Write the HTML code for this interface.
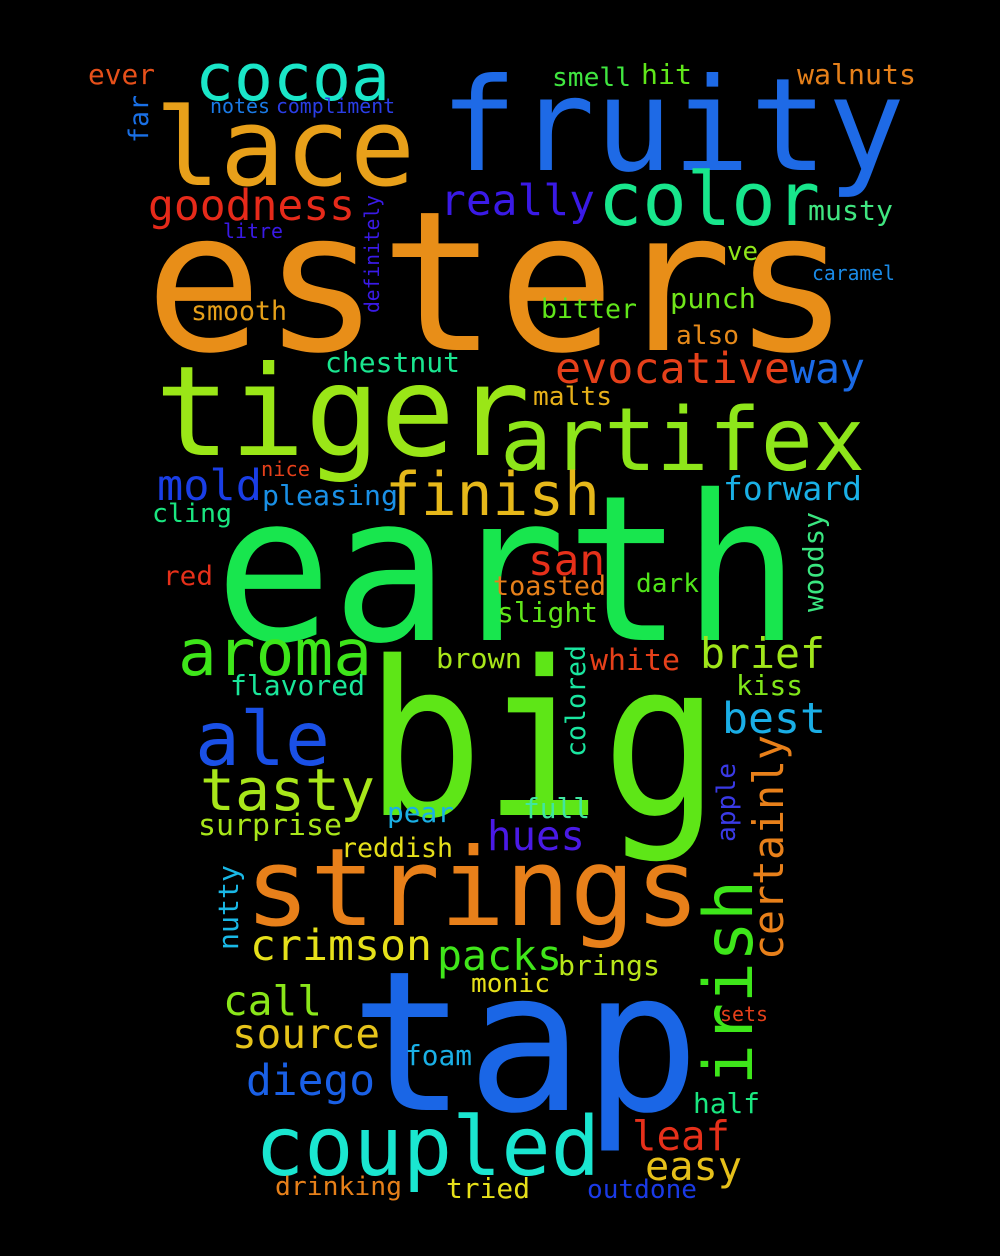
<!DOCTYPE html>
<html>
<head>
<meta charset="utf-8">
<style>
  html, body { margin: 0; padding: 0; background: #000; }
  svg { display: block; }
  text { font-family: "DejaVu Sans Mono", "Liberation Mono", monospace; }
</style>
</head>
<body>
<svg id="cloud" width="1000" height="1256" viewBox="0 0 1000 1256" xmlns="http://www.w3.org/2000/svg">
  <rect x="0" y="0" width="1000" height="1256" fill="#000"/>
</svg>
<script>
const words = ["esters","earth","big","tap","fruity","lace","tiger","artifex","strings","coupled","cocoa","color","finish","aroma","ale","tasty","irish","certainly","goodness","really","evocative","way","mold","san","brief","best","hues","crimson","packs","call","source","diego","leaf","easy","forward","chestnut","pleasing","cling","red","smooth","bitter","punch","also","malts","musty","ve","caramel","walnuts","hit","smell","ever","notes","compliment","far","definitely","litre","nice","toasted","dark","slight","woodsy","brown","white","colored","flavored","kiss","apple","pear","full","surprise","reddish","nutty","brings","monic","sets","foam","half","drinking","tried","outdone"];
const sizes = [195,203,215,195,129,108,125,87,108,82,65,74,60,64,75,58,68,42,43,43,43,42,43,43,42,43,41,43,42,41,41,43,41,40,33,28,28,26,27,27,27,28,26,26,28,26,20,28,28,26,28,20,20,27,20,20,20,27,26,28,28,28,29,27,28,28,26,28,28,29,27,28,28,26,20,28,28,26,28,26];
const colors = ["#e88e18","#18e64e","#5ee617","#1a66e6","#1e6ae6","#e8a01a","#9ae617","#8ee61a","#e8801a","#1ae6d0","#1ae6c8","#18e68c","#e6b81a","#3ee61a","#1a50e6","#a8e61a","#3ee61a","#e8801a","#e62a1a","#3a1ae6","#e6401a","#1a6ae6","#1a3ee6","#e6301a","#a0e61a","#1aaee6","#4a1ae6","#e6e01a","#40e61a","#8ae61a","#e6c41a","#1a60e6","#e6301a","#e6c01a","#1ab0e6","#1ae690","#1a90e6","#1ae680","#e6301a","#e6a01a","#60e61a","#70e61a","#e68a1a","#e6b01a","#40e680","#90e61a","#1a8ae6","#e6801a","#60e61a","#40e640","#e6501a","#1a7ae6","#2a3ee6","#1a70e6","#3a1ae6","#3a1ae6","#e6401a","#e6801a","#50e61a","#60e61a","#3ae680","#a8e61a","#e6401a","#1ae6a0","#1ae69a","#80e61a","#3a3ae6","#1ab0e6","#40e6a0","#a8e61a","#e6e01a","#1ab8e6","#b8e61a","#e6e01a","#e6401a","#1ab0e6","#1ae680","#e6801a","#e6e01a","#1a3ae6"];
const xs = [145,215,365,350,440,155,155,500,245,255,195,598,385,178,195,200,752,783,148,440,555,790,157,528,700,722,487,250,437,223,232,246,632,645,723,325,262,152,163,191,541,670,676,533,808,727,812,797,641,552,88,210,276,148,379,223,261,493,636,497,823,436,590,585,230,736,735,387,523,198,341,238,558,471,720,405,693,275,446,587];
const ys = [350,640,815,1110,170,185,455,470,925,1175,100,225,515,675,765,810,1085,960,220,215,383,383,500,575,668,733,850,960,970,1015,1048,1095,1150,1180,500,372,505,522,585,320,318,308,344,405,220,260,280,84,84,86,84,113,113,143,313,238,476,595,592,622,612,668,670,757,695,695,842,822,818,835,857,950,975,992,1021,1065,1113,1195,1198,1198];
const widths = [705,585,355,350,465,260,375,365,455,345,195,222,215,194,135,175,205,225,207,155,235,75,105,77,125,104,98,182,125,99,148,129,98,97,139,135,136,80,50,96,96,86,63,79,85,31,83,119,51,79,67,60,119,48,118,60,49,113,63,101,100,86,90,112,135,67,79,67,67,144,112,85,102,79,48,67,67,127,84,110];
const vertical = ["irish","certainly","far","definitely","woodsy","colored","apple","nutty"];

const svg = document.getElementById('cloud');
const NS = 'http://www.w3.org/2000/svg';
for (let i = 0; i < words.length; i++) {
  const t = document.createElementNS(NS, 'text');
  
  
  t.setAttribute('x', xs[i]);
  t.setAttribute('y', ys[i]);
  t.setAttribute('font-size', sizes[i]);
  t.setAttribute('fill', colors[i]);
  t.setAttribute('textLength', widths[i]);
  t.setAttribute('lengthAdjust', 'spacingAndGlyphs');
  if (vertical.indexOf(words[i]) >= 0) {
    t.setAttribute('transform', 'rotate(-90 ' + xs[i] + ' ' + ys[i] + ')');
  }
  t.textContent = words[i];
  svg.appendChild(t);
}
</script>
</body>
</html>
